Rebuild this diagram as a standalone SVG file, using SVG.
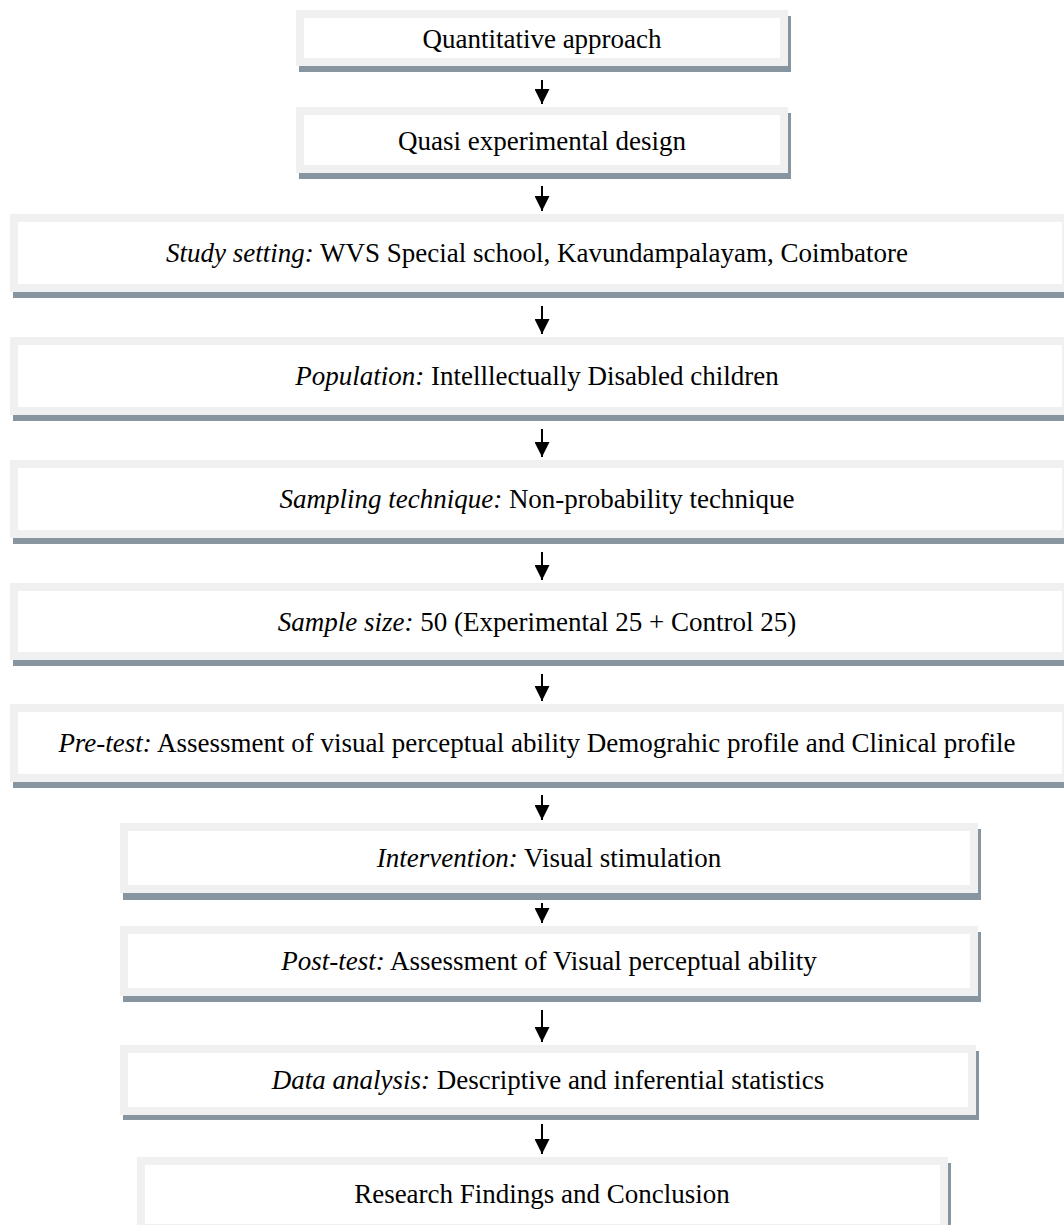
<svg xmlns="http://www.w3.org/2000/svg" width="1064" height="1225" viewBox="0 0 1064 1225">
<style>
.sh{fill:#8795a0}
.bx{fill:#fff;stroke:#f0f0f0;stroke-width:8}
.t{font-family:"Liberation Serif","Times New Roman",serif;font-size:27px;text-anchor:middle;fill:#000}
.i{font-style:italic}
.c{stroke:#000;stroke-width:2;fill:none}
</style>
<defs>
<marker id="ah" markerWidth="15" markerHeight="15" refX="15" refY="7.5" orient="auto" markerUnits="userSpaceOnUse" viewBox="0 0 15 15">
<path d="M0,0 L15,7.5 L0,15 z" fill="#000"/>
</marker>
</defs>
<rect width="1064" height="1225" fill="#fff"/>
<g id="n1"><rect class="sh" x="299" y="16" width="492" height="56"/><rect class="bx" x="300" y="14" width="484" height="48"/><text class="t" x="542" y="48">Quantitative approach</text></g>
<g id="n2"><rect class="sh" x="299" y="113" width="492" height="66"/><rect class="bx" x="300" y="111" width="484" height="58"/><text class="t" x="542" y="150">Quasi experimental design</text></g>
<g id="n3"><rect class="sh" x="13" y="220" width="1060" height="78"/><rect class="bx" x="14" y="218" width="1052" height="70"/><text class="t" x="537" y="262"><tspan class="i">Study setting:</tspan> WVS Special school, Kavundampalayam, Coimbatore</text></g>
<g id="n4"><rect class="sh" x="13" y="343" width="1060" height="78"/><rect class="bx" x="14" y="341" width="1052" height="70"/><text class="t" x="537" y="385"><tspan class="i">Population:</tspan> Intelllectually Disabled children</text></g>
<g id="n5"><rect class="sh" x="13" y="466" width="1060" height="78"/><rect class="bx" x="14" y="464" width="1052" height="70"/><text class="t" x="537" y="508"><tspan class="i">Sampling technique:</tspan> Non-probability technique</text></g>
<g id="n6"><rect class="sh" x="13" y="589" width="1060" height="77"/><rect class="bx" x="14" y="587" width="1052" height="69"/><text class="t" x="537" y="631"><tspan class="i">Sample size:</tspan> 50 (Experimental 25 + Control 25)</text></g>
<g id="n7"><rect class="sh" x="13" y="710" width="1060" height="78"/><rect class="bx" x="14" y="708" width="1052" height="70"/><text class="t" x="537" y="752"><tspan class="i">Pre-test:</tspan> Assessment of visual perceptual ability Demograhic profile and Clinical profile</text></g>
<g id="n8"><rect class="sh" x="123" y="829" width="858" height="71"/><rect class="bx" x="124" y="827" width="850" height="62"/><text class="t" x="549" y="867"><tspan class="i">Intervention:</tspan> Visual stimulation</text></g>
<g id="n9"><rect class="sh" x="123" y="932" width="858" height="70"/><rect class="bx" x="124" y="930" width="850" height="62"/><text class="t" x="549" y="970"><tspan class="i">Post-test:</tspan> Assessment of Visual perceptual ability</text></g>
<g id="n10"><rect class="sh" x="123" y="1051" width="856" height="69"/><rect class="bx" x="124" y="1049" width="848" height="62"/><text class="t" x="548" y="1089"><tspan class="i">Data analysis:</tspan> Descriptive and inferential statistics</text></g>
<g id="n11"><rect class="sh" x="140" y="1163" width="811" height="75"/><rect class="bx" x="141" y="1161" width="803" height="67"/><text class="t" x="542" y="1203">Research Findings and Conclusion</text></g>
<g id="connectors">
<line class="c" x1="542" y1="80" x2="542" y2="104" marker-end="url(#ah)"/>
<line class="c" x1="542" y1="186" x2="542" y2="211" marker-end="url(#ah)"/>
<line class="c" x1="542" y1="306" x2="542" y2="334" marker-end="url(#ah)"/>
<line class="c" x1="542" y1="429" x2="542" y2="457" marker-end="url(#ah)"/>
<line class="c" x1="542" y1="552" x2="542" y2="580" marker-end="url(#ah)"/>
<line class="c" x1="542" y1="674" x2="542" y2="701" marker-end="url(#ah)"/>
<line class="c" x1="542" y1="795" x2="542" y2="820" marker-end="url(#ah)"/>
<line class="c" x1="542" y1="903" x2="542" y2="923" marker-end="url(#ah)"/>
<line class="c" x1="542" y1="1010" x2="542" y2="1042" marker-end="url(#ah)"/>
<line class="c" x1="542" y1="1124" x2="542" y2="1154" marker-end="url(#ah)"/>
</g>
</svg>
